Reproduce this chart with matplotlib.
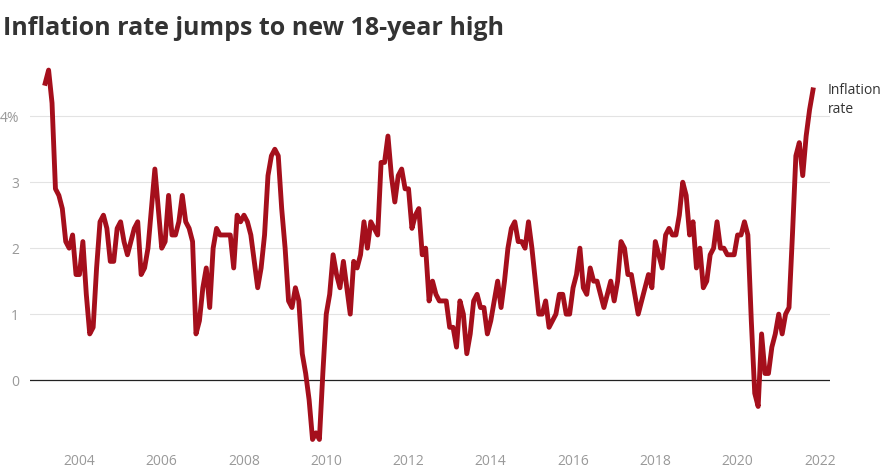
import matplotlib.pyplot as plt
import numpy as np

plt.rcParams['font.family'] = ['Open Sans', 'DejaVu Sans']

# Monthly inflation rate (%), early 2003 - autumn 2021
rate = [
    4.5, 4.7, 4.2, 2.9, 2.8, 2.6, 2.1, 2.0, 2.2, 1.6, 1.6, 2.1,
    1.3, 0.7, 0.8, 1.7, 2.4, 2.5, 2.3, 1.8, 1.8, 2.3, 2.4, 2.1,
    1.9, 2.1, 2.3, 2.4, 1.6, 1.7, 2.0, 2.6, 3.2, 2.6, 2.0, 2.1,
    2.8, 2.2, 2.2, 2.4, 2.8, 2.4, 2.3, 2.1, 0.7, 0.9, 1.4, 1.7,
    1.1, 2.0, 2.3, 2.2, 2.2, 2.2, 2.2, 1.7, 2.5, 2.4, 2.5, 2.4,
    2.2, 1.8, 1.4, 1.7, 2.2, 3.1, 3.4, 3.5, 3.4, 2.6, 2.0, 1.2,
    1.1, 1.4, 1.2, 0.4, 0.1, -0.3, -0.9, -0.8, -0.9, 0.1, 1.0, 1.3,
    1.9, 1.6, 1.4, 1.8, 1.4, 1.0, 1.8, 1.7, 1.9, 2.4, 2.0, 2.4,
    2.3, 2.2, 3.3, 3.3, 3.7, 3.1, 2.7, 3.1, 3.2, 2.9, 2.9, 2.3,
    2.5, 2.6, 1.9, 2.0, 1.2, 1.5, 1.3, 1.2, 1.2, 1.2, 0.8, 0.8,
    0.5, 1.2, 1.0, 0.4, 0.7, 1.2, 1.3, 1.1, 1.1, 0.7, 0.9, 1.2,
    1.5, 1.1, 1.5, 2.0, 2.3, 2.4, 2.1, 2.1, 2.0, 2.4, 2.0, 1.5,
    1.0, 1.0, 1.2, 0.8, 0.9, 1.0, 1.3, 1.3, 1.0, 1.0, 1.4, 1.6,
    2.0, 1.4, 1.3, 1.7, 1.5, 1.5, 1.3, 1.1, 1.3, 1.5, 1.2, 1.5,
    2.1, 2.0, 1.6, 1.6, 1.3, 1.0, 1.2, 1.4, 1.6, 1.4, 2.1, 1.9,
    1.7, 2.2, 2.3, 2.2, 2.2, 2.5, 3.0, 2.8, 2.2, 2.4, 1.7, 2.0,
    1.4, 1.5, 1.9, 2.0, 2.4, 2.0, 2.0, 1.9, 1.9, 1.9, 2.2, 2.2,
    2.4, 2.2, 0.9, -0.2, -0.4, 0.7, 0.1, 0.1, 0.5, 0.7, 1.0, 0.7,
    1.0, 1.1, 2.2, 3.4, 3.6, 3.1, 3.7, 4.1, 4.4,
]
start_year = 2003.17
years = start_year + np.arange(len(rate)) / 12

y_ticks = [0, 1, 2, 3, 4]
y_labels = ['0', '1', '2', '3', '4%']
x_ticks = list(range(2004, 2023, 2))

fig = plt.figure(figsize=(8.93, 4.74), dpi=100)
ax = fig.add_axes([0.034, 0.059, 0.895, 0.814])

for y in y_ticks[1:]:
    ax.axhline(y, color='#e3e3e3', lw=0.8, zorder=0)
ax.axhline(0, color='#222222', lw=0.9, zorder=1)

ax.plot(years, rate, color='#a50f1c', lw=3.5, solid_joinstyle='round', zorder=3)

ax.set_xlim(2002.81, 2022.24)
ax.set_ylim(-1.0, 4.85)
ax.set_yticks(y_ticks)
ax.set_yticklabels(y_labels)
ax.set_xticks(x_ticks)
ax.set_xticklabels([str(x) for x in x_ticks])
ax.tick_params(axis='both', length=0, colors='#999999', labelsize=10)
ax.tick_params(axis='y', pad=8)
ax.tick_params(axis='x', pad=6)
for s in ax.spines.values():
    s.set_visible(False)

ax.text(years[-1] + 0.35, rate[-1] - 0.15, 'Inflation\nrate', fontsize=10,
        color='#333333', va='center', ha='left', linespacing=1.4, clip_on=False)

fig.text(0.003, 0.94, 'Inflation rate jumps to new 18-year high', fontsize=18,
         fontweight='bold', color='#333333', ha='left', va='center')

fig.savefig('out.png', dpi=100, facecolor='white')
